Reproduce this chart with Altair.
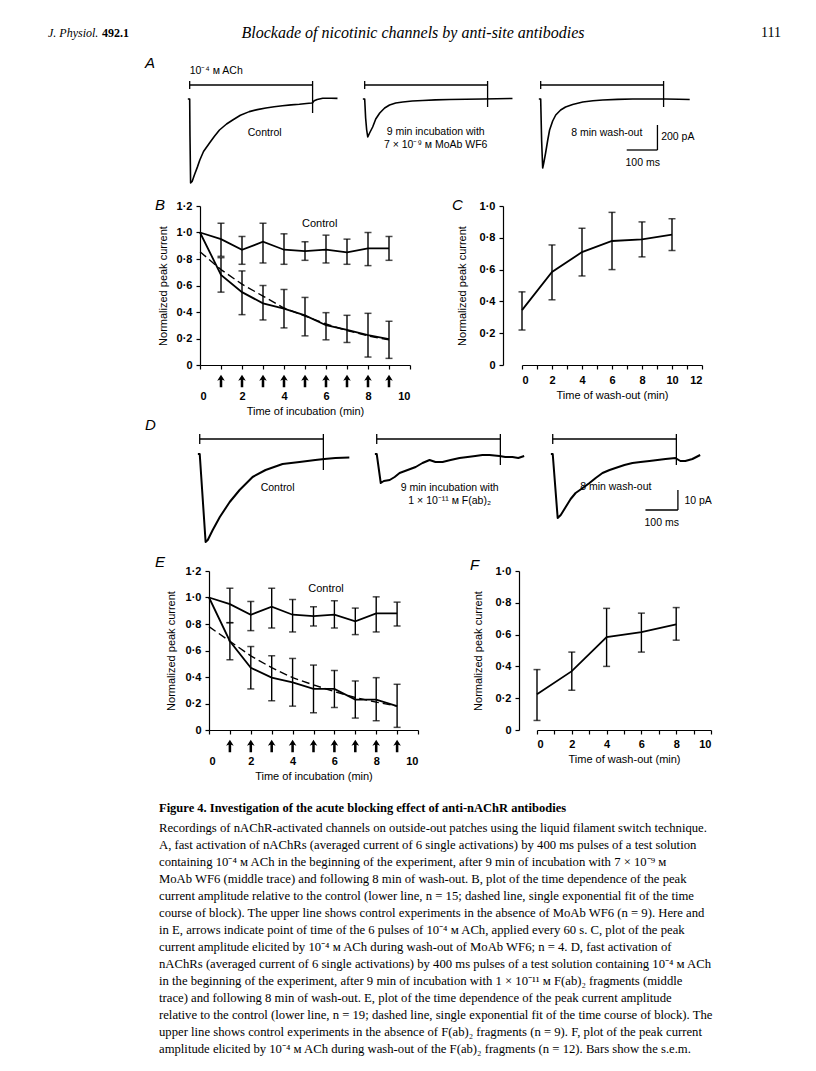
import altair as alt
import pandas as pd

# ---------------- data ----------------
# Panel B (MoAb WF6)
B_TIME = [0, 1, 2, 3, 4, 5, 6, 7, 8, 9]
B_CONTROL = [1.0, 0.95, 0.87, 0.93, 0.87, 0.86, 0.87, 0.85, 0.88, 0.88]
B_BLOCK = [1.0, 0.68, 0.55, 0.465, 0.425, 0.375, 0.30, 0.265, 0.225, 0.195]
B_FIT = [0.855, 0.72, 0.61, 0.52, 0.43, 0.37, 0.31, 0.26, 0.22, 0.19]
ERR_TIME = [1, 2, 3, 4, 5, 6, 7, 8, 9]
B_CONTROL_LO = [0.82, 0.76, 0.77, 0.76, 0.79, 0.77, 0.76, 0.75, 0.79]
B_CONTROL_HI = [1.07, 0.97, 1.07, 0.99, 0.93, 0.98, 0.95, 1.00, 0.97]
B_BLOCK_LO = [0.55, 0.38, 0.34, 0.28, 0.22, 0.19, 0.17, 0.06, 0.05]
B_BLOCK_HI = [0.81, 0.71, 0.60, 0.57, 0.51, 0.395, 0.375, 0.39, 0.33]

# Panel C (wash-out of MoAb WF6)
C_TIME = [0, 2, 4, 6, 8, 10]
C_MEAN = [0.345, 0.585, 0.71, 0.78, 0.79, 0.82]
C_LO = [0.22, 0.41, 0.56, 0.60, 0.68, 0.72]
C_HI = [0.46, 0.755, 0.86, 0.96, 0.90, 0.92]

# Panel E (F(ab)2 fragments)
E_CONTROL = [1.0, 0.95, 0.87, 0.93, 0.87, 0.86, 0.87, 0.82, 0.88, 0.88]
E_BLOCK = [1.0, 0.67, 0.47, 0.395, 0.36, 0.31, 0.31, 0.23, 0.23, 0.18]
E_FIT = [0.78, 0.67, 0.56, 0.47, 0.395, 0.34, 0.29, 0.245, 0.21, 0.18]
E_CONTROL_LO = [0.81, 0.75, 0.77, 0.74, 0.785, 0.77, 0.72, 0.74, 0.785]
E_CONTROL_HI = [1.07, 0.97, 1.07, 0.985, 0.93, 0.975, 0.92, 1.005, 0.965]
E_BLOCK_LO = [0.53, 0.31, 0.22, 0.18, 0.13, 0.17, 0.09, 0.07, 0.02]
E_BLOCK_HI = [0.81, 0.63, 0.56, 0.54, 0.49, 0.45, 0.37, 0.395, 0.345]

# Panel F (wash-out of F(ab)2)
F_TIME = [0, 2, 4, 6, 8]
F_MEAN = [0.225, 0.37, 0.585, 0.615, 0.665]
F_LO = [0.06, 0.25, 0.40, 0.49, 0.565]
F_HI = [0.38, 0.49, 0.765, 0.735, 0.77]

ARROW_TIME = [1, 2, 3, 4, 5, 6, 7, 8, 9]

# Panel A current traces (time ms, current pA)
A1_T = [-6, 0, 1, 3, 8, 15, 25, 33, 45, 64, 80, 97, 120, 140, 165, 194, 220, 248, 275, 302, 330, 357, 380, 397, 400, 405, 415, 433, 460, 481]
A1_I = [0, 0, -300, -672, -660, -610, -545, -488, -420, -354, -300, -248, -200, -168, -130, -101, -85, -72, -62, -54, -47, -42, -36, -32, -30, -14, -4, 6, 6, 5]
A2_T = [-6, 0, 3, 6.5, 10, 16, 26, 36, 49, 65, 81, 101, 124, 155, 189, 230, 276, 330, 384, 430, 481]
A2_I = [0, 0, -150, -248, -304, -272, -224, -160, -112, -72, -48, -32, -24, -16, -12, -7, -4, -2, 0, 2, 4]
A3_T = [-6, 0, 3, 6.5, 10, 16, 23, 29, 39, 49, 65, 81, 104, 137, 170, 202, 250, 299, 350, 407, 450, 485]
A3_I = [0, 0, -328, -552, -512, -432, -328, -248, -176, -128, -88, -64, -44, -24, -14, -8, -3, 0, 0, 0, -2, -4]

# Panel D current traces (time ms, current pA)
D1_T = [-6, 0, 19, 26, 42, 65, 97, 129, 171, 213, 268, 323, 374, 403, 439, 484]
D1_I = [0, 0, -44, -43, -38, -31.5, -24, -18, -11.5, -8, -5, -4, -3, -2.5, -2, -1.75]
D2_T = [-6, 0, 13, 23, 42, 58, 74, 100, 126, 148, 171, 190, 213, 239, 268, 294, 319, 342, 365, 397, 416, 439, 458, 477]
D2_I = [0, 0, -14.5, -13.5, -13, -11.5, -9.5, -8, -6.5, -4.5, -3, -4, -4, -3, -2, -1.5, -1, -0.5, -0.5, -1, -1.5, -1.5, -2, -1]
D3_T = [-6, 0, 16, 26, 42, 58, 74, 97, 119, 139, 161, 184, 203, 232, 258, 284, 313, 339, 365, 397, 413, 429, 452, 477]
D3_I = [0, 0, -32, -30.5, -26.5, -22.5, -19.5, -17, -14.5, -12, -9.5, -8, -7, -5.5, -4.5, -4, -3.5, -3, -2.5, -2, -3.5, -3.5, -2.5, -0.5]

PULSE = [0, 400]            # ms, application of 10^-4 M ACh
A_PULSE_LEVEL = 112          # pA (bar above traces)
A_TICK = [80, 144]
A_END_LOW = [-112, -64, -64]
A_SCALE_T = [280, 380]       # 100 ms
A_SCALE_I = [-208, -408]     # 200 pA
D_PULSE_LEVEL = 7.5
D_TICK = [5, 10]
D_END_LOW = [-8, -5.5, -5.5]
D_SCALE_T = [300, 405]
D_SCALE_I = [-18, -28]       # 10 pA

HEADER_LEFT = "J. Physiol."
HEADER_VOL = "492.1"
HEADER_TITLE = "Blockade of nicotinic channels by anti-site antibodies"
HEADER_PAGE = "111"

CAPTION_TITLE = "Figure 4.  Investigation of the acute blocking effect of anti-nAChR antibodies"
CAPTION_LINES = [
    "Recordings of nAChR-activated channels on outside-out patches using the liquid filament switch technique.",
    "A, fast activation of nAChRs (averaged current of 6 single activations) by 400 ms pulses of a test solution",
    "containing 10\u207b\u2074 \u1d0d ACh in the beginning of the experiment, after 9 min of incubation with 7 \u00d7 10\u207b\u2079 \u1d0d",
    "MoAb WF6 (middle trace) and following 8 min of wash-out. B, plot of the time dependence of the peak",
    "current amplitude relative to the control (lower line, n = 15; dashed line, single exponential fit of the time",
    "course of block). The upper line shows control experiments in the absence of MoAb WF6 (n = 9). Here and",
    "in E, arrows indicate point of time of the 6 pulses of 10\u207b\u2074 \u1d0d ACh, applied every 60 s. C, plot of the peak",
    "current amplitude elicited by 10\u207b\u2074 \u1d0d ACh during wash-out of MoAb WF6; n = 4. D, fast activation of",
    "nAChRs (averaged current of 6 single activations) by 400 ms pulses of a test solution containing 10\u207b\u2074 \u1d0d ACh",
    "in the beginning of the experiment, after 9 min of incubation with 1 \u00d7 10\u207b\u00b9\u00b9 \u1d0d F(ab)\u2082 fragments (middle",
    "trace) and following 8 min of wash-out. E, plot of the time dependence of the peak current amplitude",
    "relative to the control (lower line, n = 19; dashed line, single exponential fit of the time course of block). The",
    "upper line shows control experiments in the absence of F(ab)\u2082 fragments (n = 9). F, plot of the peak current",
    "amplitude elicited by 10\u207b\u2074 \u1d0d ACh during wash-out of the F(ab)\u2082 fragments (n = 12). Bars show the s.e.m.",
]

# ---------------- helpers ----------------
SANS = "Liberation Sans"
SERIF = "Liberation Serif"
DOT = "datum.value == 0 ? '0' : replace(format(datum.value, '.1f'), '.', '\u00b7')"
EVEN = "datum.value % 2 == 0 ? datum.label : ''"
ARROW = "M0,-1L0.6,-0.05L0.2,-0.2L0.2,1L-0.2,1L-0.2,-0.2L-0.6,-0.05Z"


def spacer(w, h):
    return alt.Chart(pd.DataFrame({"s": [0]})).mark_point(opacity=0).encode(
        x=alt.value(0), y=alt.value(0)).properties(width=w, height=h)


def label(text, x, y, **kw):
    return alt.Chart(pd.DataFrame({"s": [text]})).mark_text(**kw).encode(
        x=alt.value(x), y=alt.value(y), text="s:N")


def decay_panel(letter, ctrl, block, fit, c_lo, c_hi, b_lo, b_hi, ctrl_pos, w, h, letter_pos, ytp):
    xs = alt.Scale(domain=[0, 10], nice=False, zero=False)
    ys = alt.Scale(domain=[0, 1.2], nice=False)
    xax = alt.Axis(values=list(range(11)), labelExpr=EVEN, title="Time of incubation (min)",
                   labelPadding=21, titlePadding=4)
    yax = alt.Axis(values=[0, 0.2, 0.4, 0.6, 0.8, 1.0, 1.2], labelExpr=DOT,
                   title="Normalized peak current", titlePadding=ytp)

    def X(f):
        return alt.X(f + ":Q", scale=xs, axis=xax)

    def Y(f):
        return alt.Y(f + ":Q", scale=ys, axis=yax)

    lines = pd.DataFrame({"t": B_TIME * 2, "v": ctrl + block,
                          "s": ["c"] * len(B_TIME) + ["b"] * len(B_TIME)})
    err = pd.DataFrame({"t": ERR_TIME * 2, "lo": c_lo + b_lo, "hi": c_hi + b_hi})
    fitdf = pd.DataFrame({"t": B_TIME, "v": fit})
    arrows = pd.DataFrame({"t": ARROW_TIME})
    ctl = pd.DataFrame({"t": [ctrl_pos[0]], "v": [ctrl_pos[1]], "s": ["Control"]})

    layers = [
        alt.Chart(lines).mark_line(color="black", strokeWidth=1.8).encode(x=X("t"), y=Y("v"), detail="s:N"),
        alt.Chart(fitdf).mark_line(color="black", strokeWidth=1.4, strokeDash=[8, 4]).encode(x=X("t"), y=Y("v")),
        alt.Chart(err).mark_rule(color="black", strokeWidth=1.4).encode(x=X("t"), y=Y("lo"), y2="hi:Q"),
        alt.Chart(err).mark_tick(color="black", orient="horizontal", size=7, thickness=1.5).encode(x=X("t"), y=Y("lo")),
        alt.Chart(err).mark_tick(color="black", orient="horizontal", size=7, thickness=1.5).encode(x=X("t"), y=Y("hi")),
        alt.Chart(arrows).mark_point(shape=ARROW, size=160, filled=True, color="black", opacity=1).encode(
            x=X("t"), y=alt.value(175)),
        alt.Chart(ctl).mark_text(font=SANS, fontSize=11, color="black").encode(x=X("t"), y=Y("v"), text="s:N"),
        label(letter, letter_pos[0], letter_pos[1], font=SANS, fontSize=15, fontStyle="italic",
              color="black", align="left", baseline="middle"),
    ]
    return alt.layer(*layers).properties(width=w, height=h)


def wash_panel(letter, t, m, lo, hi, xmax, w, h, yoff, letter_pos, ytp, lpad, tpad):
    xs = alt.Scale(domain=[0, xmax], nice=False, zero=False)
    ys = alt.Scale(domain=[0, 1.0], nice=False)
    xax = alt.Axis(values=list(range(xmax + 1)), labelExpr=EVEN, title="Time of wash-out (min)",
                   labelPadding=lpad, titlePadding=tpad)
    yax = alt.Axis(values=[0, 0.2, 0.4, 0.6, 0.8, 1.0], labelExpr=DOT, offset=yoff,
                   title="Normalized peak current", titlePadding=ytp)

    def X(f):
        return alt.X(f + ":Q", scale=xs, axis=xax)

    def Y(f):
        return alt.Y(f + ":Q", scale=ys, axis=yax)

    df = pd.DataFrame({"t": t, "v": m, "lo": lo, "hi": hi})
    layers = [
        alt.Chart(df).mark_line(color="black", strokeWidth=1.8).encode(x=X("t"), y=Y("v")),
        alt.Chart(df).mark_rule(color="black", strokeWidth=1.4).encode(x=X("t"), y=Y("lo"), y2="hi:Q"),
        alt.Chart(df).mark_tick(color="black", orient="horizontal", size=7, thickness=1.5).encode(x=X("t"), y=Y("lo")),
        alt.Chart(df).mark_tick(color="black", orient="horizontal", size=7, thickness=1.5).encode(x=X("t"), y=Y("hi")),
        label(letter, letter_pos[0], letter_pos[1], font=SANS, fontSize=15, fontStyle="italic",
              color="black", align="left", baseline="middle"),
    ]
    return alt.layer(*layers).properties(width=w, height=h)


def trace_chart(t, cur, level, tick, end_low, xdom, ydom, w, h, sw,
                center_texts=(), left_texts=(), scale_t=None, scale_i=None, letter=None, letter_pos=None):
    xs = alt.Scale(domain=xdom, nice=False, zero=False)
    ys = alt.Scale(domain=ydom, nice=False, zero=False)

    def X(f):
        return alt.X(f + ":Q", scale=xs, axis=None)

    def Y(f):
        return alt.Y(f + ":Q", scale=ys, axis=None)

    tr = pd.DataFrame({"t": t, "i": cur, "k": list(range(len(t)))})
    segs = pd.DataFrame({
        "t": [PULSE[0], PULSE[0], PULSE[1]],
        "t2": [PULSE[1], PULSE[0], PULSE[1]],
        "i": [level, tick[0], end_low],
        "i2": [level, tick[1], tick[1]],
    })
    layers = [
        alt.Chart(segs).mark_rule(color="black", strokeWidth=1.3).encode(x=X("t"), x2="t2:Q", y=Y("i"), y2="i2:Q"),
        alt.Chart(tr).mark_line(color="black", strokeWidth=sw, strokeJoin="round").encode(
            x=X("t"), y=Y("i"), order="k:Q"),
    ]
    if scale_t is not None:
        sb = pd.DataFrame({"t": [scale_t[0], scale_t[1]], "t2": [scale_t[1], scale_t[1]],
                           "i": [scale_i[1], scale_i[1]], "i2": [scale_i[1], scale_i[0]]})
        layers.append(alt.Chart(sb).mark_rule(color="black", strokeWidth=1.3).encode(
            x=X("t"), x2="t2:Q", y=Y("i"), y2="i2:Q"))
    if center_texts:
        cdf = pd.DataFrame({"t": [c[0] for c in center_texts], "i": [c[1] for c in center_texts],
                            "s": [c[2] for c in center_texts]})
        layers.append(alt.Chart(cdf).mark_text(font=SANS, fontSize=10.5, color="black", align="center",
                                               baseline="middle").encode(x=X("t"), y=Y("i"), text="s:N"))
    if left_texts:
        ldf = pd.DataFrame({"t": [c[0] for c in left_texts], "i": [c[1] for c in left_texts],
                            "s": [c[2] for c in left_texts]})
        layers.append(alt.Chart(ldf).mark_text(font=SANS, fontSize=10.5, color="black", align="left",
                                               baseline="middle").encode(x=X("t"), y=Y("i"), text="s:N"))
    if letter:
        layers.append(label(letter, letter_pos[0], letter_pos[1], font=SANS, fontSize=15, fontStyle="italic",
                            color="black", align="left", baseline="middle"))
    return alt.layer(*layers).properties(width=w, height=h)


def hrow(*items):
    return alt.hconcat(*items, spacing=0, bounds="flush")


# ---------------- header ----------------
header = alt.layer(
    label(HEADER_LEFT, 37, 25, font=SERIF, fontSize=12, fontStyle="italic", color="black", align="left", baseline="middle"),
    label(HEADER_VOL, 91, 25, font=SERIF, fontSize=12, fontWeight="bold", color="black", align="left", baseline="middle"),
    label(HEADER_TITLE, 402, 25, font=SERIF, fontSize=16, fontStyle="italic", color="black", align="center", baseline="middle"),
    label(HEADER_PAGE, 770, 25, font=SERIF, fontSize=14, color="black", align="right", baseline="middle"),
).properties(width=792, height=61)

# ---------------- panel A ----------------
A_XDOM = [-25, 525]
A_YDOM = [-720, 240]
a1 = trace_chart(A1_T, A1_I, A_PULSE_LEVEL, A_TICK, A_END_LOW[0], A_XDOM, A_YDOM, 169, 120, 1.6,
                 center_texts=[(244, -272, "Control")],
                 left_texts=[(0, 224, "10\u207b\u2074 \u1d0d ACh")],
                 letter="A", letter_pos=(-37, -6))
a2 = trace_chart(A2_T, A2_I, A_PULSE_LEVEL, A_TICK, A_END_LOW[1], A_XDOM, A_YDOM, 169, 120, 1.6,
                 center_texts=[(231, -264, "9 min incubation with"),
                               (231, -368, "7 \u00d7 10\u207b\u2079 \u1d0d MoAb WF6")])
a3 = trace_chart(A3_T, A3_I, A_PULSE_LEVEL, A_TICK, A_END_LOW[2], A_XDOM, A_YDOM, 169, 120, 1.6,
                 center_texts=[(215, -272, "8 min wash-out")],
                 left_texts=[(392, -304, "200 pA"), (276, -512, "100 ms")],
                 scale_t=A_SCALE_T, scale_i=A_SCALE_I)
rowA = hrow(spacer(171, 1), a1, spacer(6, 1), a2, spacer(7, 1), a3)

# ---------------- panels B, C ----------------
pb = decay_panel("B", B_CONTROL, B_BLOCK, B_FIT, B_CONTROL_LO, B_CONTROL_HI, B_BLOCK_LO, B_BLOCK_HI,
                 (5.7, 1.065), 210, 159, (-45, -1), 8)
pc = wash_panel("C", C_TIME, C_MEAN, C_LO, C_HI, 12, 180, 159, 19, (-70, -1), 12, 5, 4)
rowBC = hrow(spacer(189, 1), pb, spacer(112, 1), pc)

# ---------------- panel D ----------------
D_XDOM = [-25, 525]
D_YDOM = [-48, 12]
d1 = trace_chart(D1_T, D1_I, D_PULSE_LEVEL, D_TICK, D_END_LOW[0], D_XDOM, D_YDOM, 170, 120, 2.0,
                 center_texts=[(252, -17, "Control")], letter="D", letter_pos=(-47, -5))
d2 = trace_chart(D2_T, D2_I, D_PULSE_LEVEL, D_TICK, D_END_LOW[1], D_XDOM, D_YDOM, 170, 120, 2.0,
                 center_texts=[(236, -17, "9 min incubation with"),
                               (236, -23.5, "1 \u00d7 10\u207b\u00b9\u00b9 \u1d0d F(ab)\u2082")])
d3 = trace_chart(D3_T, D3_I, D_PULSE_LEVEL, D_TICK, D_END_LOW[2], D_XDOM, D_YDOM, 170, 120, 2.0,
                 center_texts=[(204, -16.5, "8 min wash-out")],
                 left_texts=[(426, -23.5, "10 pA"), (297, -34.5, "100 ms")],
                 scale_t=D_SCALE_T, scale_i=D_SCALE_I)
rowD = hrow(spacer(181, 1), d1, spacer(7, 1), d2, spacer(6, 1), d3)

# ---------------- panels E, F ----------------
pe = decay_panel("E", E_CONTROL, E_BLOCK, E_FIT, E_CONTROL_LO, E_CONTROL_HI, E_BLOCK_LO, E_BLOCK_HI,
                 (5.6, 1.062), 209, 159, (-54, -9), 9)
pf = wash_panel("F", F_TIME, F_MEAN, F_LO, F_HI, 10, 174, 159, 18, (-67, -6), 12, 4, 4)
rowEF = hrow(spacer(198, 1), pe, spacer(119, 1), pf)

# ---------------- caption ----------------
cap_df = pd.DataFrame({"line": list(range(1, len(CAPTION_LINES) + 1)), "s": CAPTION_LINES})
caption = alt.layer(
    label(CAPTION_TITLE, 148, 13, font=SERIF, fontSize=12.5, fontWeight="bold", color="black",
          align="left", baseline="middle"),
    alt.Chart(cap_df).mark_text(font=SERIF, fontSize=12.7, color="black", align="left", baseline="middle").encode(
        x=alt.value(148),
        y=alt.Y("line:Q", scale=alt.Scale(domain=[1, 14], range=[33, 254]), axis=None),
        text="s:N"),
).properties(width=792, height=265)

# nested rows count as zero height in the flush layout; the spacers carry the row heights
chart = alt.vconcat(
    header, rowA, spacer(1, 137), rowBC, spacer(1, 224), rowD, spacer(1, 141), rowEF, spacer(1, 224), caption,
    spacing=0, bounds="flush",
).properties(padding=0).configure_view(stroke=None).configure_axis(
    domainColor="black", domainWidth=1.2, tickColor="black", tickWidth=1.2, tickSize=4,
    labelFont=SANS, labelFontSize=11, labelFontWeight="bold", labelColor="black", labelPadding=4,
    titleFont=SANS, titleFontSize=11, titleFontWeight="normal", titleColor="black", grid=False,
)

chart.save("out.html", embed_options={"renderer": "svg", "actions": False})
